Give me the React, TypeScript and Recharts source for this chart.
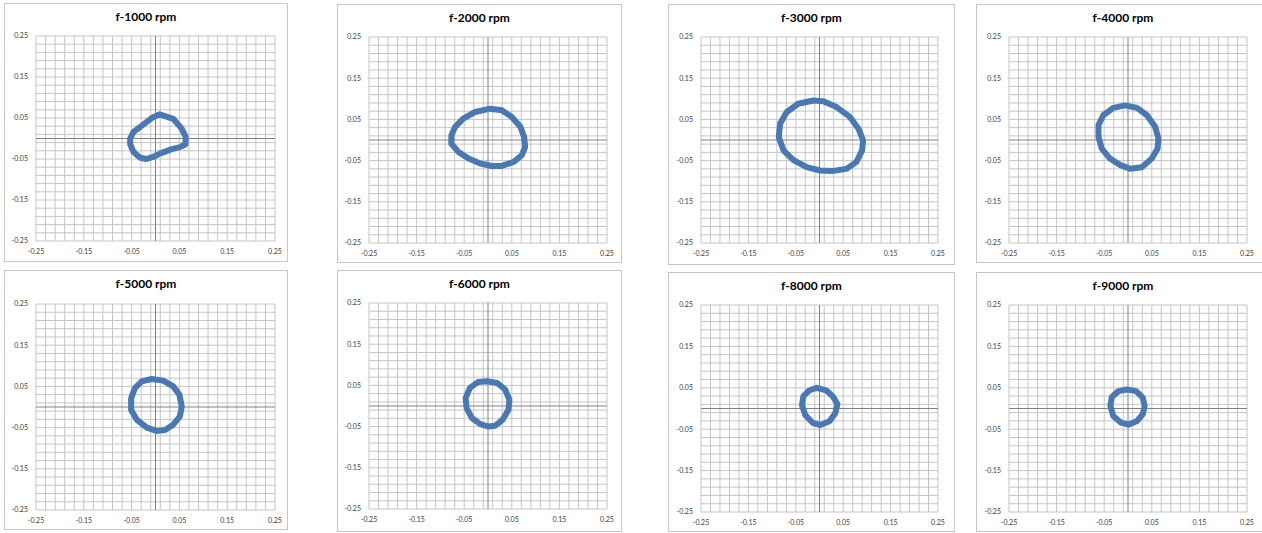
import { LineChart, Line, XAxis, YAxis, ReferenceLine } from "recharts";

// orbit traces, one loop per speed
const rpm1000 = [
  { x: 0.009, y: 0.059 }, { x: 0.037, y: 0.048 }, { x: 0.055, y: 0.024 }, { x: 0.063, y: 0.004 },
  { x: 0.063, y: -0.014 }, { x: 0.051, y: -0.021 }, { x: 0.034, y: -0.026 }, { x: 0.009, y: -0.037 },
  { x: -0.005, y: -0.045 }, { x: -0.019, y: -0.05 }, { x: -0.032, y: -0.047 }, { x: -0.046, y: -0.033 },
  { x: -0.053, y: -0.014 }, { x: -0.053, y: 0.0 }, { x: -0.046, y: 0.016 }, { x: -0.032, y: 0.028 },
  { x: -0.019, y: 0.04 }, { x: -0.005, y: 0.052 },
];
const rpm2000 = [
  { x: 0.005, y: 0.076 }, { x: 0.029, y: 0.072 }, { x: 0.05, y: 0.056 }, { x: 0.068, y: 0.032 },
  { x: 0.076, y: 0.007 }, { x: 0.078, y: -0.017 }, { x: 0.071, y: -0.037 }, { x: 0.054, y: -0.053 },
  { x: 0.029, y: -0.063 }, { x: 0.008, y: -0.063 }, { x: -0.016, y: -0.057 }, { x: -0.041, y: -0.045 },
  { x: -0.062, y: -0.029 }, { x: -0.077, y: -0.009 }, { x: -0.077, y: 0.011 }, { x: -0.069, y: 0.032 },
  { x: -0.052, y: 0.052 }, { x: -0.027, y: 0.068 },
];
const rpm3000 = [
  { x: -0.013, y: 0.096 }, { x: 0.008, y: 0.094 }, { x: 0.036, y: 0.08 }, { x: 0.064, y: 0.056 },
  { x: 0.082, y: 0.028 }, { x: 0.092, y: -0.001 }, { x: 0.09, y: -0.025 }, { x: 0.078, y: -0.053 },
  { x: 0.057, y: -0.07 }, { x: 0.029, y: -0.075 }, { x: 0.001, y: -0.074 }, { x: -0.027, y: -0.066 },
  { x: -0.055, y: -0.049 }, { x: -0.076, y: -0.025 }, { x: -0.086, y: 0.007 }, { x: -0.083, y: 0.04 },
  { x: -0.069, y: 0.068 }, { x: -0.045, y: 0.088 },
];
const rpm4000 = [
  { x: -0.006, y: 0.084 }, { x: 0.019, y: 0.078 }, { x: 0.04, y: 0.06 }, { x: 0.057, y: 0.032 },
  { x: 0.064, y: 0.003 }, { x: 0.062, y: -0.021 }, { x: 0.05, y: -0.045 }, { x: 0.029, y: -0.066 },
  { x: 0.005, y: -0.07 }, { x: -0.016, y: -0.061 }, { x: -0.038, y: -0.045 }, { x: -0.055, y: -0.021 },
  { x: -0.062, y: 0.007 }, { x: -0.062, y: 0.036 }, { x: -0.052, y: 0.06 }, { x: -0.031, y: 0.078 },
];
const rpm5000 = [
  { x: -0.008, y: 0.068 }, { x: 0.016, y: 0.064 }, { x: 0.037, y: 0.05 }, { x: 0.05, y: 0.03 },
  { x: 0.055, y: 0.001 }, { x: 0.051, y: -0.023 }, { x: 0.037, y: -0.043 }, { x: 0.02, y: -0.056 },
  { x: 0.002, y: -0.058 }, { x: -0.018, y: -0.05 }, { x: -0.039, y: -0.031 }, { x: -0.051, y: -0.007 },
  { x: -0.051, y: 0.021 }, { x: -0.043, y: 0.046 }, { x: -0.029, y: 0.062 },
];
const rpm6000 = [
  { x: -0.002, y: 0.06 }, { x: 0.019, y: 0.056 }, { x: 0.036, y: 0.04 }, { x: 0.045, y: 0.015 },
  { x: 0.043, y: -0.009 }, { x: 0.031, y: -0.033 }, { x: 0.015, y: -0.048 }, { x: 0.001, y: -0.05 },
  { x: -0.016, y: -0.044 }, { x: -0.034, y: -0.029 }, { x: -0.045, y: -0.005 }, { x: -0.047, y: 0.019 },
  { x: -0.038, y: 0.044 }, { x: -0.021, y: 0.058 },
];
const rpm8000 = [
  { x: -0.006, y: 0.05 }, { x: 0.014, y: 0.044 }, { x: 0.029, y: 0.028 }, { x: 0.038, y: 0.01 },
  { x: 0.033, y: -0.012 }, { x: 0.021, y: -0.031 }, { x: 0.002, y: -0.04 }, { x: -0.014, y: -0.035 },
  { x: -0.03, y: -0.016 }, { x: -0.037, y: 0.008 }, { x: -0.034, y: 0.03 }, { x: -0.021, y: 0.044 },
];
const rpm9000 = [
  { x: -0.002, y: 0.046 }, { x: 0.017, y: 0.042 }, { x: 0.031, y: 0.026 }, { x: 0.035, y: 0.006 },
  { x: 0.031, y: -0.014 }, { x: 0.019, y: -0.03 }, { x: 0.001, y: -0.039 }, { x: -0.015, y: -0.034 },
  { x: -0.031, y: -0.018 }, { x: -0.037, y: 0.006 }, { x: -0.034, y: 0.028 }, { x: -0.02, y: 0.042 },
];

const titles = ["f-1000 rpm", "f-2000 rpm", "f-3000 rpm", "f-4000 rpm", "f-5000 rpm", "f-6000 rpm", "f-8000 rpm", "f-9000 rpm"];
const orbits = [rpm1000, rpm2000, rpm3000, rpm4000, rpm5000, rpm6000, rpm8000, rpm9000];
const axisTicks = [-0.25, -0.15, -0.05, 0.05, 0.15, 0.25];
// minor gridlines every 0.02 starting at the axis minimum
const gridValues = Array.from({ length: 26 }, (_, i) => +(-0.25 + i * 0.02).toFixed(2));

// box [left, top, right, bottom] and plot area [left, top, right, bottom] in page px
const layout = [
  { box: [4, 3, 288, 262], plot: [36, 36, 275, 241] },
  { box: [337, 4, 622, 263], plot: [369, 37, 607, 243] },
  { box: [668, 4, 955, 265], plot: [701, 37, 938, 243] },
  { box: [976, 4, 1270, 263], plot: [1009, 37, 1247, 243] },
  { box: [4, 270, 288, 530], plot: [36, 304, 275, 510] },
  { box: [337, 270, 622, 532], plot: [369, 303, 607, 509] },
  { box: [668, 272, 955, 532], plot: [701, 305, 938, 512] },
  { box: [976, 272, 1270, 532], plot: [1009, 305, 1247, 512] },
];

const Y_W = 30;
const X_H = 20;
const FONT = "Lato, 'Open Sans', sans-serif";
const fmt = (v: number) => v.toFixed(2);

function Orbit({ idx }: { idx: number }) {
  const { box, plot } = layout[idx];
  const w = box[2] - box[0];
  const h = box[3] - box[1];
  const margin = {
    left: plot[0] - box[0] - Y_W,
    top: plot[1] - box[1],
    right: box[2] - plot[2],
    bottom: box[3] - plot[3] - X_H,
  };
  const tick = { fontSize: 7, fill: "#404040", fontFamily: FONT };
  return (
    <div style={{ position: "absolute", left: box[0], top: box[1], width: w, height: h }}>
      <div style={{ position: "absolute", inset: 0, border: "1px solid #c6c6c6", boxSizing: "border-box" }} />
      <div
        style={{
          position: "absolute", left: 0, right: 0, top: 6, textAlign: "center",
          fontFamily: FONT, fontWeight: 700, fontSize: 12, color: "#000",
        }}
      >
        {titles[idx]}
      </div>
      <LineChart width={w} height={h} data={orbits[idx]} margin={margin} style={{ position: "absolute", left: 0, top: 0 }}>
        <XAxis
          type="number"
          dataKey="x"
          domain={[-0.25, 0.25]}
          ticks={axisTicks}
          tickFormatter={fmt}
          axisLine={false}
          tickLine={false}
          height={X_H}
          tick={tick}
          allowDataOverflow
        />
        <YAxis
          type="number"
          dataKey="y"
          domain={[-0.25, 0.25]}
          ticks={axisTicks}
          tickFormatter={fmt}
          axisLine={false}
          tickLine={false}
          width={Y_W}
          tick={tick}
          allowDataOverflow
        />
        {gridValues.map((v) => (
          <ReferenceLine key={"v" + v} x={v} stroke="#c4c4c4" strokeWidth={1} />
        ))}
        {gridValues.map((v) => (
          <ReferenceLine key={"h" + v} y={v} stroke="#c4c4c4" strokeWidth={1} />
        ))}
        <ReferenceLine x={0} stroke="#808080" />
        <ReferenceLine y={0} stroke="#808080" />
        <Line
          type="linearClosed"
          dataKey="y"
          stroke="#4a78b2"
          strokeWidth={6}
          strokeLinejoin="round"
          dot={false}
          activeDot={false}
          isAnimationActive={false}
        />
      </LineChart>
    </div>
  );
}

export default function App() {
  return (
    <div style={{ position: "absolute", left: 0, top: 0, width: 1262, height: 533, overflow: "hidden", background: "#fff" }}>
      {titles.map((_, i) => (
        <Orbit key={i} idx={i} />
      ))}
    </div>
  );
}
